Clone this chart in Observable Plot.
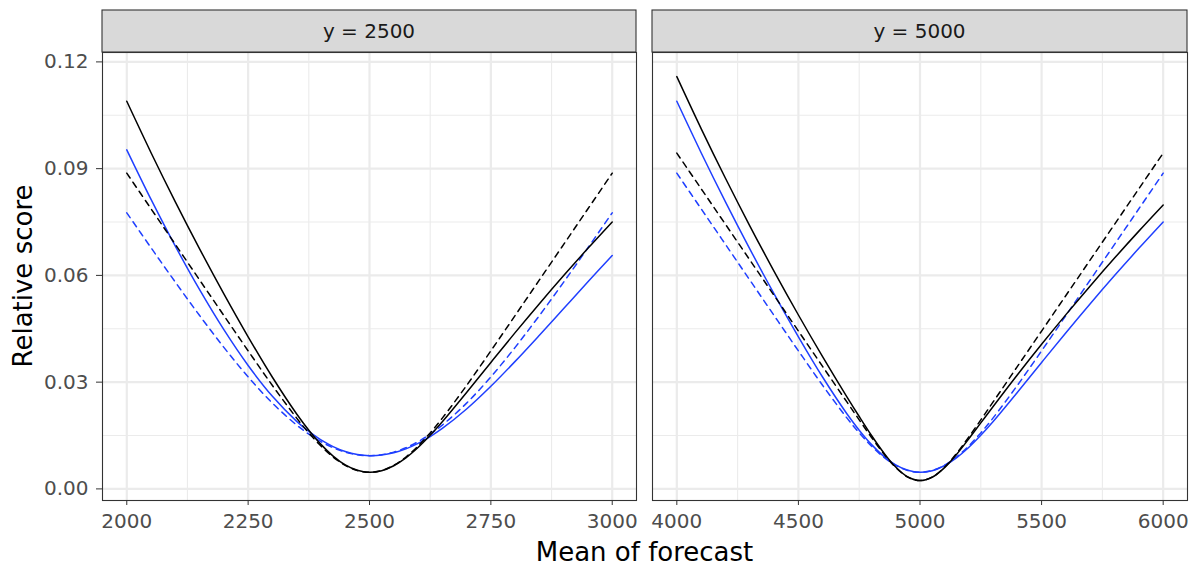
<!DOCTYPE html>
<html><head><meta charset="utf-8">
<script src="https://cdn.jsdelivr.net/npm/d3@7"></script>
<script src="https://cdn.jsdelivr.net/npm/@observablehq/plot@0.6"></script>
<style>
body{margin:0;background:#fff;}
#chart{position:relative;width:1196px;height:567px;font-family:"DejaVu Sans",sans-serif;background:#fff;}
#chart svg{position:absolute;top:0;overflow:visible;}
g[aria-label*="axis"] text{fill:#4d4d4d;}
</style></head><body><div id="chart"></div>
<script>
// ---------- data ----------
const panelLabels = ["y = 2500", "y = 5000"];
const yTicks = [0, 0.03, 0.06, 0.09, 0.12];
const yMinor = [0.015, 0.045, 0.075, 0.105];
const xTicksLeft = [2000, 2250, 2500, 2750, 3000];
const xMinorLeft = [2125, 2375, 2625, 2875];
const xTicksRight = [4000, 4500, 5000, 5500, 6000];
const xMinorRight = [4250, 4750, 5250, 5750];

const xLeft = [2000,2050,2100,2150,2200,2250,2300,2350,2375,2400,2425,2450,2475,2500,2525,2550,2575,2600,2625,2650,2700,2750,2800,2850,2900,2950,3000];
const blackSolidLeft = [0.10893,0.09448,0.08067,0.06746,0.05481,0.04275,0.03137,0.02105,0.01650,0.01251,0.00922,0.00675,0.00522,0.00467,0.00512,0.00651,0.00872,0.01162,0.01505,0.01885,0.02707,0.03554,0.04391,0.05205,0.05995,0.06760,0.07502];
const blackDashedLeft = [0.08872,0.07872,0.06872,0.05872,0.04873,0.03880,0.02906,0.01989,0.01574,0.01205,0.00896,0.00663,0.00517,0.00467,0.00517,0.00663,0.00896,0.01205,0.01574,0.01989,0.02906,0.03880,0.04873,0.05872,0.06872,0.07872,0.08872];
const blueSolidLeft = [0.09528,0.08135,0.06822,0.05598,0.04474,0.03468,0.02602,0.01898,0.01614,0.01376,0.01190,0.01053,0.00969,0.00935,0.00951,0.01015,0.01126,0.01279,0.01472,0.01699,0.02245,0.02884,0.03584,0.04319,0.05070,0.05820,0.06561];
const blueDashedLeft = [0.07759,0.06777,0.05811,0.04873,0.03978,0.03148,0.02410,0.01793,0.01539,0.01326,0.01157,0.01034,0.00960,0.00935,0.00960,0.01034,0.01157,0.01326,0.01539,0.01793,0.02410,0.03148,0.03978,0.04873,0.05811,0.06777,0.07759];

const xRight = [4000,4100,4200,4300,4400,4500,4600,4700,4750,4800,4850,4900,4950,5000,5050,5100,5150,5200,5250,5300,5400,5500,5600,5700,5800,5900,6000];
const blackSolidRight = [0.11586,0.10126,0.08730,0.07394,0.06114,0.04887,0.03710,0.02579,0.02034,0.01508,0.01023,0.00614,0.00335,0.00234,0.00328,0.00592,0.00968,0.01401,0.01855,0.02309,0.03201,0.04063,0.04898,0.05705,0.06487,0.07244,0.07979];
const blackDashedRight = [0.09436,0.08436,0.07436,0.06436,0.05436,0.04436,0.03436,0.02437,0.01940,0.01453,0.00994,0.00602,0.00331,0.00234,0.00331,0.00602,0.00994,0.01453,0.01940,0.02437,0.03436,0.04436,0.05436,0.06436,0.07436,0.08436,0.09436];
const blueSolidRight = [0.10893,0.09448,0.08067,0.06746,0.05481,0.04275,0.03137,0.02105,0.01650,0.01251,0.00922,0.00675,0.00522,0.00467,0.00512,0.00651,0.00872,0.01162,0.01505,0.01885,0.02707,0.03554,0.04391,0.05205,0.05995,0.06760,0.07502];
const blueDashedRight = [0.08872,0.07872,0.06872,0.05872,0.04873,0.03880,0.02906,0.01989,0.01574,0.01205,0.00896,0.00663,0.00517,0.00467,0.00517,0.00663,0.00896,0.01205,0.01574,0.01989,0.02906,0.03880,0.04873,0.05872,0.06872,0.07872,0.08872];

// ---------- styling ----------
const BLUE = "#1f3fff";
const H = 540, MT = 52, MB = 40;
const yDomain = [-0.00326, 0.12264];

function rows(xs, vs) { return xs.map((x, i) => ({x, v: vs[i]})); }

function panel({xs, series, xDomain, xTicks, xMinor, showY, left, width, marginLeft, marginRight, label}) {
  const lineMarks = series.map(s => Plot.line(rows(xs, s.values), {
    x: "x", y: "v", stroke: s.color, strokeWidth: 1.5,
    strokeDasharray: s.dashed ? "6,5" : null, curve: "catmull-rom"
  }));
  const p = Plot.plot({
    width, height: H, marginLeft, marginRight, marginTop: MT, marginBottom: MB,
    style: {fontFamily: "DejaVu Sans, sans-serif", fontSize: "20px", color: "#333333", background: "transparent", overflow: "visible"},
    x: {domain: xDomain, ticks: xTicks, tickSize: 5, tickPadding: 8, label: null, tickFormat: d3.format("d")},
    y: showY
      ? {domain: yDomain, ticks: yTicks, tickSize: 6, tickPadding: 8, label: null, tickFormat: d3.format(".2f")}
      : {domain: yDomain, axis: null},
    marks: [
      Plot.ruleY(yMinor, {stroke: "#EBEBEB", strokeWidth: 1.1}),
      Plot.ruleX(xMinor, {stroke: "#EBEBEB", strokeWidth: 1.1}),
      Plot.ruleY(yTicks, {stroke: "#EBEBEB", strokeWidth: 2.2}),
      Plot.ruleX(xTicks, {stroke: "#EBEBEB", strokeWidth: 2.2}),
      ...lineMarks,
      Plot.frame({stroke: "#333333", strokeWidth: 1.1})
    ]
  });
  p.style.left = left + "px";
  const svg = d3.select(p);
  const pw = width - marginLeft - marginRight;
  svg.append("rect").attr("x", marginLeft).attr("y", 10).attr("width", pw).attr("height", MT - 10)
    .attr("fill", "#D9D9D9").attr("stroke", "#333333").attr("stroke-width", 1.1);
  svg.append("text").attr("x", marginLeft + pw / 2).attr("y", 31)
    .attr("text-anchor", "middle").attr("dominant-baseline", "central")
    .attr("font-size", 20).attr("fill", "#1a1a1a").style("fill", "#1a1a1a").text(label);
  return p;
}

const chart = document.getElementById("chart");
chart.appendChild(panel({
  xs: xLeft,
  series: [
    {values: blueDashedLeft, color: BLUE, dashed: true},
    {values: blueSolidLeft, color: BLUE, dashed: false},
    {values: blackDashedLeft, color: "black", dashed: true},
    {values: blackSolidLeft, color: "black", dashed: false}
  ],
  xDomain: [1950, 3050], xTicks: xTicksLeft, xMinor: xMinorLeft, showY: true,
  left: 0, width: 640, marginLeft: 102, marginRight: 4, label: panelLabels[0]
}));
chart.appendChild(panel({
  xs: xRight,
  series: [
    {values: blueDashedRight, color: BLUE, dashed: true},
    {values: blueSolidRight, color: BLUE, dashed: false},
    {values: blackDashedRight, color: "black", dashed: true},
    {values: blackSolidRight, color: "black", dashed: false}
  ],
  xDomain: [3900, 6100], xTicks: xTicksRight, xMinor: xMinorRight, showY: false,
  left: 640, width: 556, marginLeft: 12, marginRight: 9, label: panelLabels[1]
}));

// axis titles
const ov = d3.select(chart).append("svg").attr("width", 1196).attr("height", 567)
  .style("left", "0px").style("pointer-events", "none");
ov.append("text").attr("x", 644.5).attr("y", 561).attr("text-anchor", "middle")
  .attr("font-size", 26).attr("fill", "#000").text("Mean of forecast");
ov.append("text").attr("transform", "translate(32,276) rotate(-90)").attr("text-anchor", "middle")
  .attr("font-size", 26).attr("fill", "#000").text("Relative score");
</script></body></html>
